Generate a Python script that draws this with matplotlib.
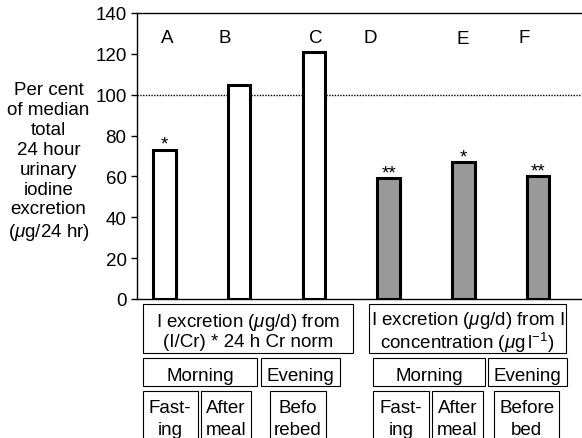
import matplotlib
matplotlib.use("Agg")
import matplotlib.pyplot as plt
from matplotlib.patches import Rectangle

plt.rcParams['font.family'] = ['Liberation Sans', 'DejaVu Sans']
plt.rcParams['mathtext.fontset'] = 'custom'
plt.rcParams['mathtext.rm'] = 'Liberation Sans'
plt.rcParams['mathtext.it'] = 'Liberation Sans:italic'
plt.rcParams['mathtext.default'] = 'rm'

# ---- data ----
letters = ['A', 'B', 'C', 'D', 'E', 'F']
values = [73, 105, 121, 59, 67, 60]
colors = ['white', 'white', 'white', '#999999', '#999999', '#999999']
stars = ['*', '', '', '**', '*', '**']
yticks = [0, 20, 40, 60, 80, 100, 120, 140]
reference_line = 100
ylabel = "Per cent\nof median\ntotal\n24 hour\nurinary\niodine\nexcretion\n($\\mathit{\\mu}$g/24 hr)"

W, H = 582, 439
FS = 13.5
fig = plt.figure(figsize=(W / 100, H / 100), dpi=100)

def fx(px):
    return px / W

def fy(py):
    return 1 - py / H

ax = fig.add_axes([fx(137), fy(300), fx(582) - fx(137), fy(14) - fy(300)])
x = list(range(len(values)))
ax.bar(x, values, width=0.3, color=colors, edgecolor='black', linewidth=2.2, zorder=3)
ax.axhline(reference_line, color='black', linewidth=1, linestyle=(0, (1, 1)), zorder=1)
ax.set_xlim(-0.369, 5.588)
ax.set_ylim(0, 140)
ax.set_yticks(yticks)
ax.set_xticks([])
ax.tick_params(axis='y', direction='out', length=4.5, width=1, pad=3, labelsize=FS)
ax.spines['right'].set_visible(False)
for s in ['left', 'top', 'bottom']:
    ax.spines[s].set_linewidth(1)

# letters above bars
letter_dx = [0.03, -0.19, 0.03, -0.24, -0.01, -0.19]
letter_y = [128.2, 128.2, 128.2, 128.2, 127.3, 128.2]
for i, (lab, dx, ly) in enumerate(zip(letters, letter_dx, letter_y)):
    ax.text(i + dx, ly, lab, ha='center', va='center', fontsize=FS)

# significance stars
for i, (v, s) in enumerate(zip(values, stars)):
    if s:
        ax.text(i, v + 0.5, s, ha='center', va='baseline', fontsize=FS)

# y label
fig.text(fx(48.5), fy(162.5), ylabel, ha='center', va='center', fontsize=FS,
         linespacing=1.22)

# ---- category boxes below the axis ----
def box(x0, y0, x1, y1):
    fig.add_artist(Rectangle((fx(x0), fy(y1)), fx(x1) - fx(x0), fy(y0) - fy(y1),
                             transform=fig.transFigure, fill=False,
                             edgecolor='black', linewidth=0.8, clip_on=False))

def label(xc, base, s, fs=FS):
    fig.text(fx(xc), fy(base), s, ha='center', va='baseline', fontsize=fs)

group_titles = [
    ("I excretion ($\\mathit{\\mu}$g/d) from", "(I/Cr) * 24 h Cr norm"),
    ("I excretion ($\\mathit{\\mu}$g/d) from I", "concentration ($\\mathit{\\mu}$g$\\,$l$^{-1}$)"),
]
line1_base = [326.7, 325.2]
line2_base = [346.7, 348.6]
period_titles = ["Morning", "Evening"]
time_titles = [("Fast-", "ing"), ("After", "meal"), ("Befo", "rebed"),
               ("Fast-", "ing"), ("After", "meal"), ("Before", "bed")]

big = [(142.7, 353.3), (369.3, 565.7)]
for k, ((x0, x1), (l1, l2)) in enumerate(zip(big, group_titles)):
    box(x0, 305, x1, 353.8)
    label((x0 + x1) / 2, line1_base[k], l1)
    label((x0 + x1) / 2, line2_base[k], l2)

mid = [(142.7, 257.3), (261, 340), (372.7, 485.3), (488.3, 567.3)]
for j, (x0, x1) in enumerate(mid):
    box(x0, 359.3, x1, 387)
    label((x0 + x1) / 2, 381, period_titles[j % 2])

small = [(142.7, 197.7), (200.7, 251), (270, 326),
         (373.3, 428.7), (431.7, 483.3), (494.3, 559)]
for (x0, x1), (l1, l2) in zip(small, time_titles):
    box(x0, 391.7, x1, 470)
    label((x0 + x1) / 2, 413, l1)
    label((x0 + x1) / 2, 435, l2)

fig.savefig("out.png", dpi=100)
